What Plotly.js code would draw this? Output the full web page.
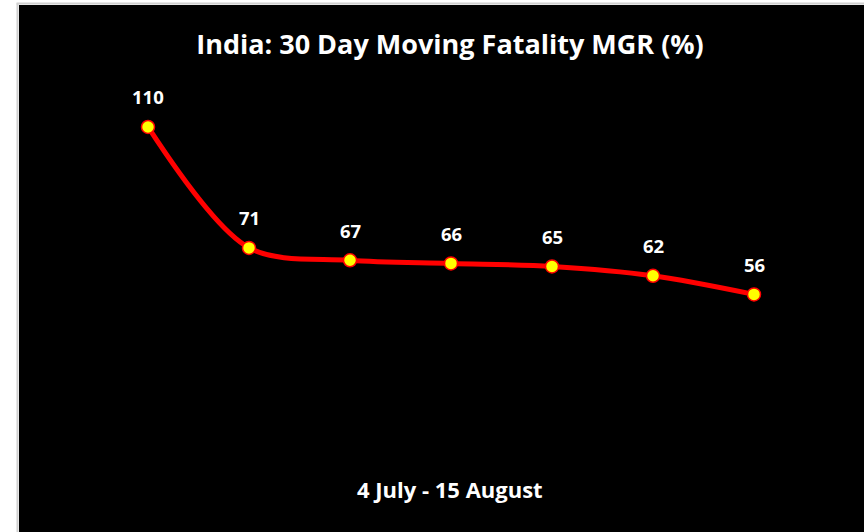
<!DOCTYPE html>
<html>
<head>
<meta charset="utf-8">
<script src="https://cdn.plot.ly/plotly-3.0.1.min.js"></script>
<style>html,body{margin:0;padding:0;background:#fff;}#chart{width:864px;height:532px;}</style>
</head>
<body>
<div id="chart"></div>
<script>
var points = [0, 1, 2, 3, 4, 5, 6];
var mgr = [110, 71, 67, 66, 65, 62, 56];
var labels = ["110", "71", "67", "66", "65", "62", "56"];

var W = 864, H = 532, L = 19, T = 5;
var pw = W - L, ph = H - T;

var trace = {
  x: points, y: mgr, type: 'scatter', mode: 'lines+markers',
  line: {color: '#ff0000', width: 5, shape: 'spline', smoothing: 0.9},
  marker: {color: '#ffff00', size: 13, line: {color: '#ff0000', width: 1.5}},
  hoverinfo: 'none'
};

var ann = points.map(function (p, i) {
  return {x: p, y: mgr[i], xref: 'x', yref: 'y', text: '<b>' + labels[i] + '</b>',
    showarrow: false, yshift: 30, font: {family: 'Open Sans', size: 18.5, color: '#ffffff'}};
});
ann.push({xref: 'paper', yref: 'paper', x: (450 - L) / pw, y: (H - 489) / ph,
  text: '<b>4 July - 15 August</b>', showarrow: false, xanchor: 'center', yanchor: 'middle',
  font: {family: 'Open Sans', size: 22, color: '#ffffff'}});

var layout = {
  width: W, height: H,
  margin: {l: L, r: 0, t: T, b: 0, pad: 0},
  paper_bgcolor: '#ffffff', plot_bgcolor: '#000000',
  showlegend: false,
  title: {text: '<b>India: 30 Day Moving Fatality MGR (%)</b>', x: 450 / W, xanchor: 'center',
    xref: 'container', y: 1 - 45 / H, yref: 'container', yanchor: 'middle',
    font: {family: 'Open Sans', size: 27, color: '#ffffff'}},
  xaxis: {range: [-(148 - L) / 101, 6 + (W - 754) / 101], visible: false, fixedrange: true},
  yaxis: {range: [-20.65, 149.35], visible: false, fixedrange: true},
  annotations: ann,
  shapes: [
    {type: 'line', xref: 'paper', yref: 'paper', x0: -1.5 / pw, x1: -1.5 / pw, y0: 0, y1: 1 + 1.5 / ph,
      line: {color: '#d0d0d0', width: 2}},
    {type: 'line', xref: 'paper', yref: 'paper', x0: -2.5 / pw, x1: 1, y0: 1 + 1.5 / ph, y1: 1 + 1.5 / ph,
      line: {color: '#d0d0d0', width: 2}}
  ]
};

Plotly.newPlot('chart', [trace], layout, {displayModeBar: false, staticPlot: true});
</script>
</body>
</html>
